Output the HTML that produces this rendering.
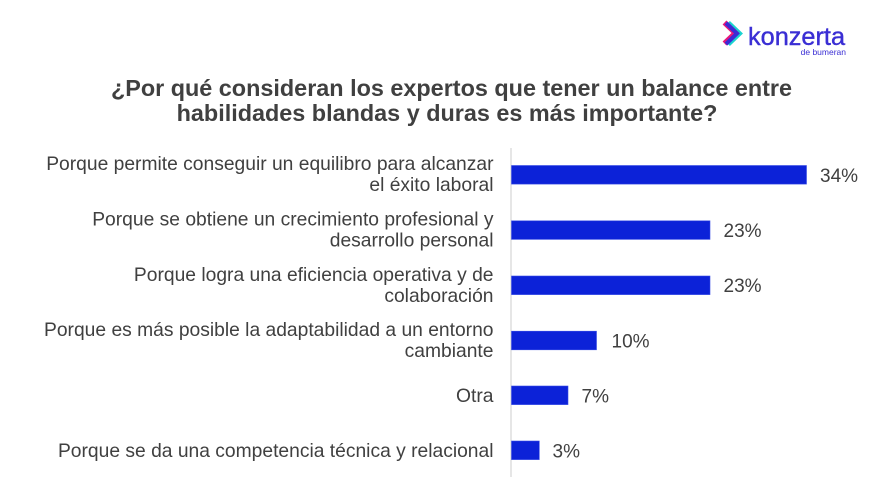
<!DOCTYPE html>
<html>
<head>
<meta charset="utf-8">
<style>
  html, body { margin:0; padding:0; background:#ffffff; }
  body { width:890px; height:483px; overflow:hidden; }
  svg { display:block; }
  text { font-family: "Liberation Sans", Arial, sans-serif; }
</style>
</head>
<body>
<svg width="890" height="483" viewBox="0 0 890 483" xmlns="http://www.w3.org/2000/svg">
  <rect x="0" y="0" width="890" height="483" fill="#ffffff"/>

  <!-- Logo -->
  <g fill="none" stroke-linecap="butt" stroke-linejoin="miter">
    <polyline points="726,23 737,33.5 726,44" stroke="#19d3d0" stroke-width="5.5" transform="translate(2,0)"/>
    <polyline points="726,23 737,33.5 726,44" stroke="#e6177a" stroke-width="5.5" transform="translate(-1.5,-0.5)"/>
    <polyline points="726,23 737,33.5 726,44" stroke="#3b2bd6" stroke-width="4"/>
  </g>
  <text x="748" y="45" font-size="25.3" fill="#3a2ed4" stroke="#3a2ed4" stroke-width="0.4">konzerta</text>
  <text x="846" y="55" font-size="8.5" fill="#3a2ed4" text-anchor="end">de bumeran</text>

  <!-- Title -->
  <g fill="#404040" font-weight="bold" font-size="23.4" text-anchor="middle">
    <text x="451.5" y="96">¿Por qué consideran los expertos que tener un balance entre</text>
    <text x="447" y="121">habilidades blandas y duras es más importante?</text>
  </g>

  <!-- Axis line -->
  <line x1="511" y1="148" x2="511" y2="477" stroke="#d9d9d9" stroke-width="1.3"/>

  <!-- Bars -->
  <g fill="#0c22d8" stroke="#3a4ee6" stroke-width="0.6">
    <rect x="511.5" y="165.5" width="295" height="18.6"/>
    <rect x="511.5" y="220.8" width="198.5" height="18.6"/>
    <rect x="511.5" y="276" width="198.5" height="18.6"/>
    <rect x="511.5" y="331.2" width="85" height="18.6"/>
    <rect x="511.5" y="386" width="56.5" height="18.6"/>
    <rect x="511.5" y="441" width="27.8" height="18.6"/>
  </g>

  <!-- Value labels -->
  <g fill="#404040" font-size="19">
    <text x="820" y="181.8">34%</text>
    <text x="723.5" y="237">23%</text>
    <text x="723.5" y="292.2">23%</text>
    <text x="611.5" y="347.4">10%</text>
    <text x="581.5" y="402.5">7%</text>
    <text x="552.5" y="457.6">3%</text>
  </g>

  <!-- Category labels -->
  <g fill="#404040" font-size="19.25" text-anchor="end">
    <text x="493.5" y="170">Porque permite conseguir un equilibro para alcanzar</text>
    <text x="493.5" y="191">el éxito laboral</text>
    <text x="493.5" y="225.5">Porque se obtiene un crecimiento profesional y</text>
    <text x="493.5" y="246.5">desarrollo personal</text>
    <text x="493.5" y="281">Porque logra una eficiencia operativa y de</text>
    <text x="493.5" y="302">colaboración</text>
    <text x="493.5" y="336">Porque es más posible la adaptabilidad a un entorno</text>
    <text x="493.5" y="357">cambiante</text>
    <text x="493.5" y="402">Otra</text>
    <text x="493.5" y="457">Porque se da una competencia técnica y relacional</text>
  </g>
</svg>
</body>
</html>
